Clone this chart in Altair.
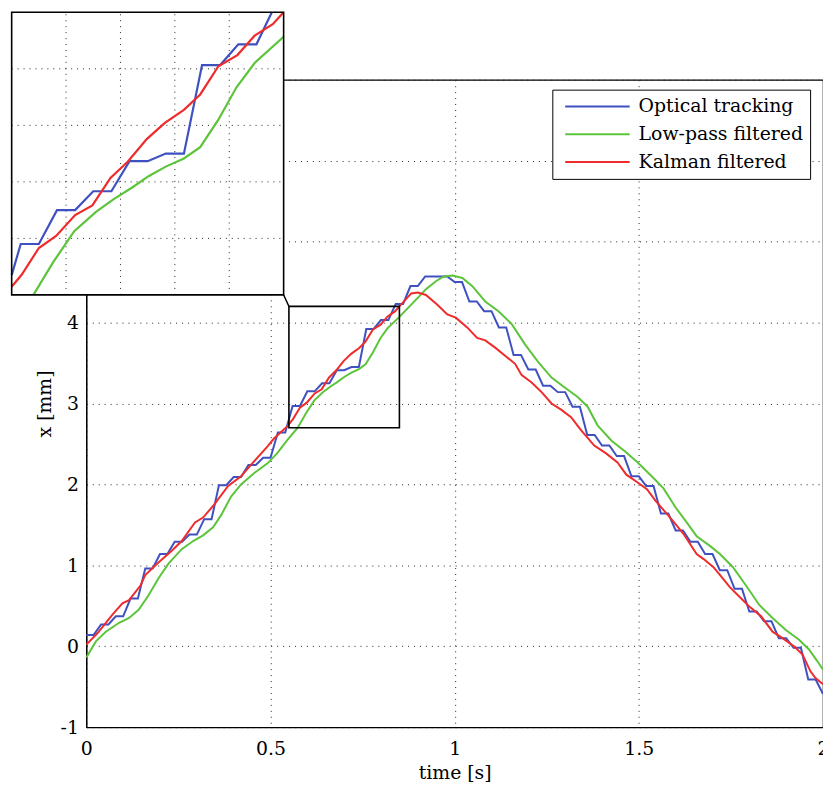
import altair as alt
import pandas as pd

# ---------------- data ----------------
SERIES = ["Optical tracking", "Low-pass filtered", "Kalman filtered"]
COLORS = ["#3f51c1", "#5cc43b", "#ef2b2b"]

optical_t = [round(0.02 * i, 2) for i in range(101)]
optical_x = [0.14, 0.14, 0.27, 0.27, 0.37, 0.37, 0.59, 0.59, 0.96, 0.96,
             1.14, 1.14, 1.29, 1.29, 1.38, 1.38, 1.57, 1.57, 1.99, 1.99,
             2.09, 2.09, 2.24, 2.24, 2.33, 2.33, 2.64, 2.64, 2.97, 2.97,
             3.15, 3.15, 3.25, 3.25, 3.41, 3.41, 3.45, 3.45, 3.92, 3.92,
             4.03, 4.03, 4.23, 4.23, 4.45, 4.45, 4.57, 4.57, 4.57, 4.57,
             4.50, 4.50, 4.26, 4.26, 4.14, 4.14, 3.94, 3.94, 3.60, 3.60,
             3.42, 3.42, 3.22, 3.22, 3.14, 3.14, 2.96, 2.96, 2.61, 2.61,
             2.48, 2.48, 2.35, 2.35, 2.10, 2.10, 1.98, 1.98, 1.64, 1.64,
             1.43, 1.43, 1.29, 1.29, 1.14, 1.14, 0.94, 0.94, 0.71, 0.71,
             0.43, 0.43, 0.31, 0.31, 0.10, 0.10, -0.02, -0.02, -0.41, -0.41,
             -0.59]

lowpass_t = [0.000, 0.026, 0.053, 0.089, 0.116, 0.142, 0.169, 0.196, 0.223, 0.259,
             0.290, 0.317, 0.344, 0.366, 0.393, 0.420, 0.456, 0.492, 0.519, 0.546,
             0.574, 0.596, 0.619, 0.643, 0.663, 0.683, 0.701, 0.720, 0.740, 0.758,
             0.778, 0.798, 0.818, 0.850, 0.886, 0.922, 0.949, 0.970, 0.994, 1.021,
             1.048, 1.083, 1.119, 1.155, 1.191, 1.227, 1.263, 1.298, 1.334, 1.361,
             1.388, 1.426, 1.462, 1.497, 1.535, 1.567, 1.599, 1.630, 1.657, 1.693,
             1.720, 1.755, 1.791, 1.827, 1.863, 1.899, 1.935, 1.962, 1.984, 2.000]
lowpass_x = [-0.14, 0.06, 0.18, 0.29, 0.35, 0.45, 0.63, 0.84, 1.02, 1.20,
             1.30, 1.37, 1.47, 1.62, 1.85, 2.00, 2.14, 2.26, 2.39, 2.55,
             2.70, 2.875, 3.038, 3.141, 3.210, 3.270, 3.330, 3.381, 3.424, 3.484,
             3.63, 3.802, 3.931, 4.07, 4.24, 4.41, 4.51, 4.57, 4.58, 4.55,
             4.45, 4.26, 4.14, 3.98, 3.73, 3.51, 3.32, 3.20, 3.08, 2.96,
             2.73, 2.54, 2.41, 2.27, 2.10, 1.95, 1.72, 1.53, 1.36, 1.24,
             1.14, 0.98, 0.75, 0.51, 0.35, 0.20, 0.08, -0.04, -0.18, -0.29]

kalman_t = [0.000, 0.030, 0.071, 0.098, 0.116, 0.147, 0.160, 0.192, 0.232, 0.259,
            0.295, 0.317, 0.347, 0.385, 0.420, 0.447, 0.492, 0.510, 0.546, 0.561,
            0.580, 0.599, 0.620, 0.639, 0.659, 0.678, 0.699, 0.719, 0.740, 0.758,
            0.778, 0.799, 0.818, 0.838, 0.850, 0.882, 0.900, 0.922, 0.953, 0.980,
            1.003, 1.034, 1.061, 1.083, 1.110, 1.137, 1.164, 1.182, 1.209, 1.236,
            1.263, 1.290, 1.316, 1.343, 1.379, 1.412, 1.442, 1.466, 1.495, 1.522,
            1.545, 1.581, 1.603, 1.621, 1.657, 1.675, 1.702, 1.724, 1.747, 1.778,
            1.800, 1.832, 1.863, 1.890, 1.921, 1.944, 1.966, 1.979, 2.000]
kalman_x = [0.02, 0.16, 0.39, 0.53, 0.57, 0.75, 0.88, 1.02, 1.18, 1.30,
            1.53, 1.59, 1.75, 1.98, 2.10, 2.24, 2.47, 2.57, 2.72, 2.807,
            2.949, 3.013, 3.124, 3.175, 3.321, 3.407, 3.527, 3.613, 3.682, 3.764,
            3.914, 3.973, 4.076, 4.137, 4.20, 4.36, 4.37, 4.34, 4.22, 4.10,
            4.06, 3.94, 3.81, 3.78, 3.69, 3.59, 3.49, 3.35, 3.26, 3.14,
            3.00, 2.92, 2.83, 2.67, 2.48, 2.38, 2.27, 2.12, 2.03, 1.94,
            1.80, 1.61, 1.49, 1.39, 1.14, 1.08, 0.98, 0.86, 0.73, 0.59,
            0.49, 0.37, 0.18, 0.10, 0.00, -0.10, -0.31, -0.39, -0.47]

X_TICKS = [0, 0.5, 1, 1.5, 2]
Y_TICKS = [-1, 0, 1, 2, 3, 4, 5, 6, 7]
X_DOMAIN = [0, 2]
Y_DOMAIN = [-1, 7]
ZOOM_T = [0.55, 0.85]
ZOOM_X = [2.7, 4.2]
ZOOM_T_GRID = [0.61, 0.67, 0.73, 0.79]
ZOOM_X_GRID = [3.0, 3.3, 3.6, 3.9]

# ---------------- layout ----------------
W, H = 743, 653
PAD = {"left": 79, "top": 69, "right": 0, "bottom": 59}
INSET_LEFT, INSET_RIGHT = -75.3, 199.0     # inset frame, plot-area pixels
INSET_TOP, INSET_BOTTOM = -68.0, 217.0
FONT = "DejaVu Serif"
FS = 19
GRID_COLOR = "#222222"
GRID_DASH = [1, 5]

SERIES_DATA = [(SERIES[0], optical_t, optical_x),
               (SERIES[1], lowpass_t, lowpass_x),
               (SERIES[2], kalman_t, kalman_x)]


def clip_polyline(ts, xs, t0, t1, x0, x1):
    """Clip a polyline to the rectangle [t0,t1] x [x0,x1] (Liang-Barsky)."""
    pieces, cur = [], []
    for i in range(len(ts) - 1):
        pt, px = ts[i], xs[i]
        dt, dx = ts[i + 1] - pt, xs[i + 1] - px
        u0, u1, ok = 0.0, 1.0, True
        for p, q in ((-dt, pt - t0), (dt, t1 - pt), (-dx, px - x0), (dx, x1 - px)):
            if p == 0:
                if q < 0:
                    ok = False
                    break
            else:
                r = q / p
                if p < 0:
                    if r > u1:
                        ok = False
                        break
                    u0 = max(u0, r)
                else:
                    if r < u0:
                        ok = False
                        break
                    u1 = min(u1, r)
        if not ok:
            if cur:
                pieces.append(cur)
                cur = []
            continue
        a = (pt + u0 * dt, px + u0 * dx)
        b = (pt + u1 * dt, px + u1 * dx)
        if cur and abs(cur[-1][0] - a[0]) < 1e-12 and abs(cur[-1][1] - a[1]) < 1e-12:
            cur.append(b)
        else:
            if cur:
                pieces.append(cur)
            cur = [a, b]
        if u1 < 1.0:
            pieces.append(cur)
            cur = []
    if cur:
        pieces.append(cur)
    return pieces


# main data
rows = []
for name, ts, xs in SERIES_DATA:
    for i, (t, x) in enumerate(zip(ts, xs)):
        rows.append({"series": name, "t": t, "x": x, "i": i})
main_df = pd.DataFrame(rows)

# inset data (same series, clipped to the zoom window)
irows = []
for name, ts, xs in SERIES_DATA:
    for k, piece in enumerate(clip_polyline(ts, xs, ZOOM_T[0], ZOOM_T[1], ZOOM_X[0], ZOOM_X[1])):
        for i, (t, x) in enumerate(piece):
            irows.append({"series": name, "seg": f"{name}-{k}", "t": t, "x": x, "i": i})
inset_df = pd.DataFrame(irows)

# ---------------- scales / axes ----------------
xs_main = alt.Scale(domain=X_DOMAIN, nice=False, zero=False)
ys_main = alt.Scale(domain=Y_DOMAIN, nice=False, zero=False)
xs_in = alt.Scale(domain=ZOOM_T, range=[INSET_LEFT, INSET_RIGHT], nice=False, zero=False)
ys_in = alt.Scale(domain=ZOOM_X, range=[INSET_BOTTOM, INSET_TOP], nice=False, zero=False)
color_scale = alt.Scale(domain=SERIES, range=COLORS)

common_axis = dict(grid=True, gridColor=GRID_COLOR, gridDash=GRID_DASH, gridWidth=1,
                   ticks=False, tickSize=0, labelFont=FONT, labelFontSize=FS,
                   labelColor="black", domainColor="black", domainWidth=1.2,
                   titleFont=FONT, titleFontSize=FS, titleFontWeight="normal",
                   titleColor="black", labelOverlap=False, zindex=0,
                   labelExpr="'' + datum.value")
x_axis = alt.Axis(values=X_TICKS, title="time [s]", labelPadding=13, labelFlush=False,
                  titleY=52, titleBaseline="alphabetic", **common_axis)
y_axis = alt.Axis(values=Y_TICKS, title="x [mm]", labelPadding=8, labelFlush=False,
                  titleX=-36, titleBaseline="alphabetic", **common_axis)

legend = alt.Legend(title=None, orient="none", legendX=470, legendY=10,
                    symbolType="stroke", symbolSize=4225, symbolStrokeWidth=2,
                    clipHeight=20, rowPadding=8, padding=7, symbolOffset=5,
                    labelOffset=8, labelLimit=400, labelFont=FONT, labelFontSize=FS,
                    labelColor="black", fillColor="white", strokeColor="black")

# ---------------- main plot ----------------
main_layers = []
for name in SERIES:
    main_layers.append(
        alt.Chart(main_df).transform_filter(alt.datum.series == name)
        .mark_line(strokeWidth=2)
        .encode(x=alt.X("t:Q", scale=xs_main, axis=x_axis),
                y=alt.Y("x:Q", scale=ys_main, axis=y_axis),
                color=alt.Color("series:N", scale=color_scale, legend=legend),
                order="i:Q")
    )
main = alt.layer(*main_layers)

# ---------------- inset ----------------
frame_df = pd.DataFrame({"t0": [ZOOM_T[0]], "t1": [ZOOM_T[1]],
                         "x0": [ZOOM_X[0]], "x1": [ZOOM_X[1]]})
inset_bg = alt.Chart(frame_df).mark_rect(fill="white", clip=False).encode(
    x=alt.X("t0:Q", scale=xs_in, axis=None), x2="t1:Q",
    y=alt.Y("x0:Q", scale=ys_in, axis=None), y2="x1:Q")

vgrid_df = pd.DataFrame({"t": ZOOM_T_GRID, "lo": ZOOM_X[0], "hi": ZOOM_X[1]})
hgrid_df = pd.DataFrame({"x": ZOOM_X_GRID, "lo": ZOOM_T[0], "hi": ZOOM_T[1]})
inset_vgrid = alt.Chart(vgrid_df).mark_rule(color=GRID_COLOR, strokeDash=GRID_DASH,
                                            strokeWidth=1, clip=False).encode(
    x=alt.X("t:Q", scale=xs_in, axis=None),
    y=alt.Y("lo:Q", scale=ys_in, axis=None), y2="hi:Q")
inset_hgrid = alt.Chart(hgrid_df).mark_rule(color=GRID_COLOR, strokeDash=GRID_DASH,
                                            strokeWidth=1, clip=False).encode(
    y=alt.Y("x:Q", scale=ys_in, axis=None),
    x=alt.X("lo:Q", scale=xs_in, axis=None), x2="hi:Q")

inset_lines = []
for name in SERIES:
    inset_lines.append(
        alt.Chart(inset_df).transform_filter(alt.datum.series == name)
        .mark_line(strokeWidth=2.2, clip=False)
        .encode(x=alt.X("t:Q", scale=xs_in, axis=None),
                y=alt.Y("x:Q", scale=ys_in, axis=None),
                color=alt.Color("series:N", scale=color_scale, legend=None),
                detail="seg:N", order="i:Q")
    )
inset_frame = alt.Chart(frame_df).mark_rect(fillOpacity=0, stroke="black",
                                            strokeWidth=1.6, clip=False).encode(
    x=alt.X("t0:Q", scale=xs_in, axis=None), x2="t1:Q",
    y=alt.Y("x0:Q", scale=ys_in, axis=None), y2="x1:Q")
inset = alt.layer(inset_bg, inset_vgrid, inset_hgrid, *inset_lines, inset_frame)

# ---------------- zoom box and connector on the main plot ----------------
box = alt.Chart(frame_df).mark_rect(fillOpacity=0, stroke="black", strokeWidth=1.6).encode(
    x=alt.X("t0:Q", scale=xs_main, axis=None), x2="t1:Q",
    y=alt.Y("x0:Q", scale=ys_main, axis=None), y2="x1:Q")
corner_t = X_DOMAIN[0] + INSET_RIGHT / W * (X_DOMAIN[1] - X_DOMAIN[0])
corner_x = Y_DOMAIN[1] - INSET_BOTTOM / H * (Y_DOMAIN[1] - Y_DOMAIN[0])
conn_df = pd.DataFrame({"ta": [corner_t], "tb": [ZOOM_T[0]],
                        "xa": [corner_x], "xb": [ZOOM_X[1]]})
connector = alt.Chart(conn_df).mark_rule(color="black", strokeWidth=1.4, clip=False).encode(
    x=alt.X("ta:Q", scale=xs_main, axis=None), x2="tb:Q",
    y=alt.Y("xa:Q", scale=ys_main, axis=None), y2="xb:Q")
overlay = alt.layer(box, connector)

chart = (
    alt.layer(main, inset, overlay)
    .resolve_scale(x="independent", y="independent")
    .properties(width=W, height=H, padding=PAD,
                autosize=alt.AutoSizeParams(type="none"))
    .configure_view(stroke="black", strokeWidth=1.2)
)

chart.save("out.html", embed_options={"renderer": "svg", "actions": False})
